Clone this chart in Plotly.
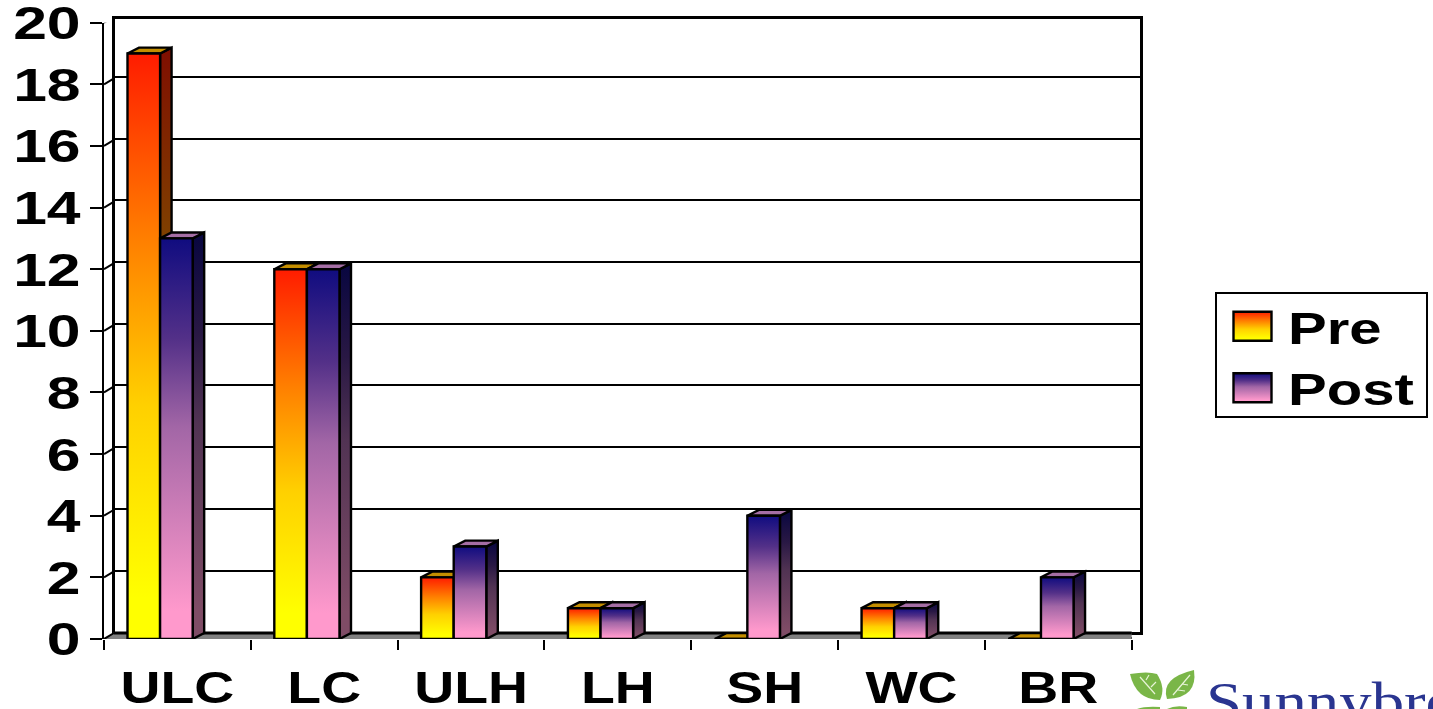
import json
import plotly.graph_objects as go

# Series and labels
categories = ["ULC", "LC", "ULH", "LH", "SH", "WC", "BR"]
pre_values = [19, 12, 2, 1, 0, 1, 0]
post_values = [13, 12, 3, 1, 4, 1, 2]
value_ticks = [0, 2, 4, 6, 8, 10, 12, 14, 16, 18, 20]

# Canvas and plot geometry, in page pixels
W, H = 1433, 709
FRONT = dict(left=104, right=1131.7, bottom=639, top=22.7)
WALL = dict(left=115.3, right=1139.8, bottom=632.3, top=18.5)
X_RANGE = [-0.5, 6.5]
Y_RANGE = [0, 20]
WALL_Y_RANGE = [0, 19.89]

px_per_x = (FRONT["right"] - FRONT["left"]) / (X_RANGE[1] - X_RANGE[0])
px_per_y = (FRONT["bottom"] - FRONT["top"]) / (Y_RANGE[1] - Y_RANGE[0])

# Oblique offsets for the floor and for the bar depth, in axis units
FLOOR_DX, FLOOR_DY = 10 / px_per_x, 6 / px_per_y
BAR_DX, BAR_DY = 11.5 / px_per_x, 5.9 / px_per_y
BAR_WIDTH = 0.222
PRE_OFFSET, POST_OFFSET = -0.34, -0.118

# Gradient stops from the top of a bar (0) to its foot (1)
PRE_STOPS = [[0, "#ff1c00"], [0.32, "#ff8000"], [0.6, "#ffd000"], [0.93, "#ffff00"], [1, "#ffff00"]]
POST_STOPS = [[0, "#100c80"], [0.25, "#533088"], [0.47, "#a266a6"], [0.93, "#ff99cc"], [1, "#ff99cc"]]
PRE_TOP, POST_TOP = "#c48e00", "#a56ea5"
OUTLINE = 2.4
FONT = "Liberation Sans"


def halved(hex_color):
    """Side faces use the front colour at half brightness."""
    r, g, b = (int(hex_color[i:i + 2], 16) // 2 for i in (1, 3, 5))
    return f"#{r:02x}{g:02x}{b:02x}"


def foot_first(stops, darken=False):
    """Colorscale running from the foot of a face up to its top."""
    return [[round(1 - f, 4), halved(c) if darken else c] for f, c in reversed(stops)]


def dom_x(box):
    return [box["left"] / W, box["right"] / W]


def dom_y(box):
    return [1 - box["bottom"] / H, 1 - box["top"] / H]


def px(x, y):
    """Page pixels to paper coordinates, for the logo artwork."""
    return f"{x / W:.5f},{1 - y / H:.5f}"


fig = go.Figure()


def polygon(xs, ys, layer, fill=None, scale=None, start=None, stop=None):
    style = dict(fillcolor=fill) if fill else dict(
        fillgradient=dict(type="vertical", colorscale=scale, start=start, stop=stop))
    fig.add_trace(go.Scatter(
        x=xs + xs[:1], y=ys + ys[:1], mode="lines", fill="toself",
        line=dict(color="black", width=OUTLINE), showlegend=False, hoverinfo="skip",
        cliponaxis=False, xaxis=f"x{layer}", yaxis=f"y{layer}", **style))


def depth_faces(values, offset, stops, top, layer):
    scale = foot_first(stops, darken=True)
    for i, v in enumerate(values):
        left, right = i + offset, i + offset + BAR_WIDTH
        if v > 0:
            polygon([right, right + BAR_DX, right + BAR_DX, right],
                    [0, BAR_DY, v + BAR_DY, v], layer,
                    scale=scale, start=0, stop=v + BAR_DY)
        polygon([left, left + BAR_DX, right + BAR_DX, right],
                [v, v + BAR_DY, v + BAR_DY, v], layer, fill=top)


# Back wall carries the gridlines
fig.add_trace(go.Scatter(x=[0], y=[0], mode="none", showlegend=False, hoverinfo="skip",
                         xaxis="x", yaxis="y"))

# Floor, with its heavy back edge
fx0, fx1 = X_RANGE
fig.add_trace(go.Scatter(
    x=[fx0, fx0 + FLOOR_DX, fx1 + FLOOR_DX, fx1, fx0],
    y=[0, FLOOR_DY, FLOOR_DY, 0, 0], mode="lines", fill="toself", fillcolor="#808080",
    line=dict(color="#808080", width=1), showlegend=False, hoverinfo="skip",
    cliponaxis=False, xaxis="x2", yaxis="y2"))
fig.add_trace(go.Scatter(
    x=[fx0 + FLOOR_DX, fx1 + FLOOR_DX, fx1], y=[FLOOR_DY, FLOOR_DY, 0], mode="lines",
    line=dict(color="black", width=3), showlegend=False, hoverinfo="skip",
    cliponaxis=False, xaxis="x2", yaxis="y2"))

# Short diagonals joining the front axis ticks to the back wall
diag_x, diag_y = [], []
for v in value_ticks:
    diag_x += [fx0, fx0 + FLOOR_DX, None]
    diag_y += [v, v + FLOOR_DY, None]
fig.add_trace(go.Scatter(x=diag_x, y=diag_y, mode="lines", line=dict(color="black", width=2),
                         showlegend=False, hoverinfo="skip", cliponaxis=False,
                         xaxis="x2", yaxis="y2"))

# Bars are layered back to front: Pre faces, Pre fronts, Post faces, Post fronts
depth_faces(pre_values, PRE_OFFSET, PRE_STOPS, PRE_TOP, 2)
fig.add_trace(go.Bar(
    x=list(range(len(categories))), y=pre_values, name="Pre", width=BAR_WIDTH, offset=PRE_OFFSET,
    marker=dict(color=PRE_STOPS[-1][1], line=dict(color="black", width=OUTLINE)),
    xaxis="x3", yaxis="y3"))
depth_faces(post_values, POST_OFFSET, POST_STOPS, POST_TOP, 3)
fig.add_trace(go.Bar(
    x=list(range(len(categories))), y=post_values, name="Post", width=BAR_WIDTH, offset=POST_OFFSET,
    marker=dict(color=POST_STOPS[-1][1], line=dict(color="black", width=OUTLINE)),
    xaxis="x4", yaxis="y4"))

hidden = dict(visible=False, fixedrange=True)
x_label_font = dict(family=FONT, size=45, color="black", weight="bold")
y_label_font = dict(family=FONT, size=47, color="black", weight="bold")
layout_axes = dict(
    xaxis=dict(domain=dom_x(WALL), range=[0, 1], showgrid=False, showticklabels=False, ticks="",
               showline=True, mirror=True, linecolor="black", linewidth=2.6,
               zeroline=False, fixedrange=True),
    yaxis=dict(domain=dom_y(WALL), range=WALL_Y_RANGE, tickvals=value_ticks, showgrid=True,
               gridcolor="black", gridwidth=2, showticklabels=False, ticks="",
               showline=True, mirror=True, linecolor="black", linewidth=2.6,
               zeroline=False, fixedrange=True),
    xaxis2=dict(domain=dom_x(FRONT), range=X_RANGE, anchor="y2", showgrid=False, zeroline=False,
                tickvals=list(range(len(categories))), ticktext=categories, ticks="", ticklen=0,
                ticklabelstandoff=18, tickangle=0, tickfont=x_label_font,
                ticklabeloverflow="allow",
                minor=dict(tickmode="array",
                           tickvals=[i - 0.5 for i in range(len(categories) + 1)],
                           ticks="outside", ticklen=10, tickwidth=2, tickcolor="black", showgrid=False),
                fixedrange=True),
    yaxis2=dict(domain=dom_y(FRONT), range=Y_RANGE, anchor="x2", tickvals=value_ticks,
                showgrid=False, zeroline=False, showline=True, linecolor="black", linewidth=2,
                ticks="outside", ticklen=12, tickwidth=2, tickcolor="black",
                ticklabelstandoff=0, tickfont=y_label_font, ticklabeloverflow="allow",
                fixedrange=True),
    xaxis3=dict(domain=dom_x(FRONT), range=X_RANGE, anchor="y3", **hidden),
    yaxis3=dict(domain=dom_y(FRONT), range=Y_RANGE, anchor="x3", **hidden),
    xaxis4=dict(domain=dom_x(FRONT), range=X_RANGE, anchor="y4", **hidden),
    yaxis4=dict(domain=dom_y(FRONT), range=Y_RANGE, anchor="x4", **hidden),
)

# Logo artwork beside the category labels
LEAF = "#7ab648"
logo_paths = [
    f"M{px(1130,674)} Q{px(1148,671)} {px(1157,674)} Q{px(1166,688)} {px(1160,700)} "
    f"Q{px(1136,700)} {px(1130,674)} Z",
    f"M{px(1194,670)} Q{px(1198,698)} {px(1167,699)} Q{px(1160,678)} {px(1194,670)} Z",
    f"M{px(1137,709)} Q{px(1145,706)} {px(1160,707)} L{px(1160,709)} Z",
    f"M{px(1167,709)} Q{px(1175,705)} {px(1187,707)} L{px(1187,709)} Z",
]
logo_veins = [
    f"M{px(1140,677)} L{px(1155,694)} M{px(1146,680)} L{px(1149,675)} M{px(1151,687)} L{px(1156,682)}",
    f"M{px(1190,675)} L{px(1173,695)} M{px(1182,684)} L{px(1188,685)} M{px(1178,690)} L{px(1185,691)}",
]
shapes = [dict(type="path", xref="paper", yref="paper", path=p, fillcolor=LEAF,
               line=dict(width=0), layer="above") for p in logo_paths]
shapes += [dict(type="path", xref="paper", yref="paper", path=p,
                line=dict(color="#e8f4d8", width=1.2), layer="above") for p in logo_veins]

fig.update_layout(
    width=W, height=H, margin=dict(l=0, r=0, t=0, b=0), template="none",
    paper_bgcolor="white", plot_bgcolor="rgba(0,0,0,0)",
    barmode="overlay", shapes=shapes,
    legend=dict(x=1215 / W, y=1 - 292 / H, xanchor="left", yanchor="top",
                bordercolor="black", borderwidth=2, bgcolor="white",
                font=dict(family=FONT, size=45, color="black", weight="bold"),
                itemwidth=61, traceorder="normal", itemclick=False, itemdoubleclick=False),
    annotations=[dict(text="Sunnybrook", xref="paper", yref="paper", x=1204 / W, y=-25 / H,
                      xanchor="left", yanchor="bottom", showarrow=False,
                      font=dict(family="Liberation Serif", size=54, color="#2a3590"))],
    **layout_axes)

# Vertical gradients for the bar fronts and legend keys, and the wide lettering
post_script = """
var gd = document.getElementById('{plot_id}');
var NS = 'http://www.w3.org/2000/svg';
function ensureGradient(id, stops) {
  if (document.getElementById(id)) return;
  var g = document.createElementNS(NS, 'linearGradient');
  g.id = id;
  [['x1','0'],['y1','0'],['x2','0'],['y2','1']].forEach(function (a) { g.setAttribute(a[0], a[1]); });
  stops.forEach(function (s) {
    var stop = document.createElementNS(NS, 'stop');
    stop.setAttribute('offset', s[0]);
    stop.setAttribute('stop-color', s[1]);
    g.appendChild(stop);
  });
  gd.querySelector('.main-svg defs').appendChild(g);
}
function widen(selector, factor, anchor) {
  gd.querySelectorAll(selector).forEach(function (t) {
    var base = t.getAttribute('transform') || '';
    if (base.indexOf('scale(') >= 0) return;
    var b = t.getBBox();
    var c = anchor === 'left' ? b.x : anchor === 'right' ? b.x + b.width : b.x + b.width / 2;
    t.setAttribute('transform', base + ' translate(' + c + ',0) scale(' + factor + ',1) translate(' + (-c) + ',0)');
  });
}
function finish() {
  ensureGradient('preGrad', PRE_JSON);
  ensureGradient('postGrad', POST_JSON);
  gd.querySelectorAll('.x3y3 .barlayer path').forEach(function (p) { p.style.fill = 'url(#preGrad)'; });
  gd.querySelectorAll('.x4y4 .barlayer path').forEach(function (p) { p.style.fill = 'url(#postGrad)'; });
  var keys = gd.querySelectorAll('.legend .legendpoints path');
  ['preGrad', 'postGrad'].forEach(function (id, i) {
    if (keys[i]) { keys[i].style.fill = 'url(#' + id + ')'; keys[i].setAttribute('d', 'M19,14.5H-19V-14.5H19Z'); }
  });
  var box = gd.querySelector('.legend .bg');
  if (box) { box.setAttribute('height', 124); box.setAttribute('width', 211); }
  var items = gd.querySelector('.legend .scrollbox');
  if (items) { items.setAttribute('transform', 'translate(0,-3.5)'); items.removeAttribute('clip-path'); }
  widen('.x2tick text', 1.23, 'center');
  widen('.y2tick text', 1.29, 'right');
  widen('.legendtext', 1.29, 'left');
  widen('.annotation-text', 1.2, 'left');
}
finish();
gd.on('plotly_afterplot', finish);
[50, 300, 1000].forEach(function (t) { setTimeout(finish, t); });
""".replace("PRE_JSON", json.dumps(PRE_STOPS)).replace("POST_JSON", json.dumps(POST_STOPS))

fig.write_html("out.html", post_script=post_script, config=dict(displayModeBar=False))
